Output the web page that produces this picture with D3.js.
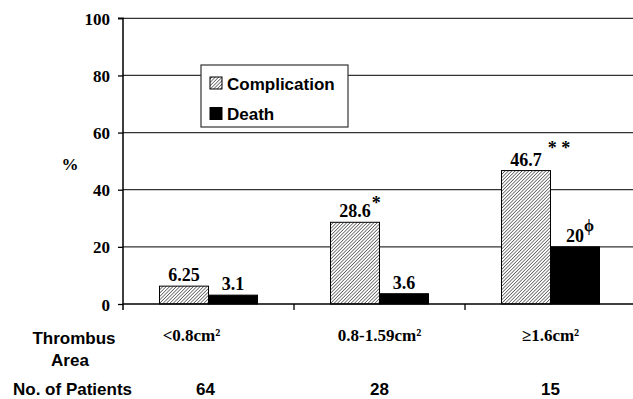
<!DOCTYPE html>
<html>
<head>
<meta charset="utf-8">
<script src="https://cdn.jsdelivr.net/npm/d3@7"></script>
<style>
  html, body { margin: 0; padding: 0; background: #fff; }
  svg { display: block; }
</style>
</head>
<body>
<svg id="chart" width="633" height="399"></svg>
<script>
const categories = ["<0.8cm²", "0.8-1.59cm²", "≥1.6cm²"];
const seriesNames = ["Complication", "Death"];
const complication = [6.25, 28.6, 46.7];
const death = [3.1, 3.6, 20];
const complicationNotes = ["", "*", "* *"];
const deathNotes = ["", "", "ϕ"];
const patients = ["64", "28", "15"];
const yTicks = [0, 20, 40, 60, 80, 100];

(function () {
const W = 633, H = 399;
const mLeft = 123, mRight = 636, mTop = 18.3, mBottom = 304;
const serif = "'Liberation Serif', 'Times New Roman', serif";
const sans = "'Liberation Sans', Arial, sans-serif";

const svg = d3.select("#chart");

// pattern
const defs = svg.append("defs");
const ps = 2.4;
const pat = defs.append("pattern")
  .attr("id", "hatch").attr("patternUnits", "userSpaceOnUse")
  .attr("width", ps).attr("height", ps)
  .attr("patternTransform", "rotate(45)");
pat.append("rect").attr("width", ps).attr("height", ps).attr("fill", "#fff");
pat.append("line").attr("x1", 0).attr("y1", 0).attr("x2", 0).attr("y2", ps)
  .attr("stroke", "#000").attr("stroke-width", 1.0);

const x0 = d3.scaleBand().domain(categories).range([mLeft, mRight]).padding(0);
const bw = x0.bandwidth();
const inset = (bw - 98) / 2;
const x1 = d3.scaleBand().domain(seriesNames).range([inset, bw - inset]).padding(0);
const y = d3.scaleLinear().domain([0, 100]).range([mBottom, mTop]);

// gridlines
svg.append("g").selectAll("line").data(yTicks.filter(d => d > 0)).join("line")
  .attr("x1", mLeft).attr("x2", W)
  .attr("y1", d => y(d)).attr("y2", d => y(d))
  .attr("stroke", "#333").attr("stroke-width", 1.2);

// y axis
const yAxis = d3.axisLeft(y).tickValues(yTicks).tickSize(5).tickPadding(8);
const gy = svg.append("g").attr("transform", `translate(${mLeft},0)`).call(yAxis);
gy.select(".domain").attr("stroke", "#000").attr("stroke-width", 1.5)
  .attr("d", `M-5,${mTop}H0V${mBottom + 6}`);
gy.selectAll(".tick line").attr("stroke", "#000").attr("stroke-width", 1.3);
gy.selectAll(".tick text").attr("font-family", serif).attr("font-weight", "bold")
  .attr("font-size", 17).attr("fill", "#000").attr("dy", "0.36em");

svg.append("text").attr("x", 70).attr("y", 170).attr("text-anchor", "middle")
  .attr("font-family", serif).attr("font-weight", "bold").attr("font-size", 17).text("%");

// data table
const rows = categories.map((c, i) => ({
  cat: c,
  vals: [
    { s: "Complication", v: complication[i], note: complicationNotes[i] },
    { s: "Death", v: death[i], note: deathNotes[i] }
  ]
}));

const groups = svg.append("g").selectAll("g").data(rows).join("g")
  .attr("transform", d => `translate(${x0(d.cat)},0)`);

groups.selectAll("rect").data(d => d.vals).join("rect")
  .attr("x", d => x1(d.s)).attr("width", x1.bandwidth())
  .attr("y", d => y(d.v)).attr("height", d => y(0) - y(d.v))
  .attr("fill", d => d.s === "Complication" ? "url(#hatch)" : "#000")
  .attr("stroke", "#000").attr("stroke-width", 1);

// value labels
groups.each(function(d) {
  const g = d3.select(this);
  d.vals.forEach(v => {
    const cx = x1(v.s) + x1.bandwidth() / 2;
    const t = g.append("text").attr("x", cx).attr("y", y(v.v) - 5)
      .attr("text-anchor", "middle").attr("font-family", serif)
      .attr("font-weight", "bold").attr("font-size", 18).text(String(v.v));
    if (v.note) {
      const w = t.node().getComputedTextLength();
      const isPhi = v.note === "ϕ";
      g.append("text")
        .attr("x", cx + w / 2 + (isPhi ? 0 : v.note.length > 1 ? 6 : 1))
        .attr("y", y(v.v) - 5 + (isPhi ? -11 : v.note.length > 1 ? -12 : -8))
        .attr("font-family", serif).attr("font-weight", "bold")
        .attr("font-size", isPhi ? 16 : 18).text(v.note);
    }
  });
});

// x axis line and ticks
svg.append("line").attr("x1", mLeft).attr("x2", W).attr("y1", mBottom).attr("y2", mBottom)
  .attr("stroke", "#000").attr("stroke-width", 1.5);
svg.append("g").selectAll("line").data(categories.slice(1)).join("line")
  .attr("x1", d => x0(d)).attr("x2", d => x0(d))
  .attr("y1", mBottom).attr("y2", mBottom + 6)
  .attr("stroke", "#000").attr("stroke-width", 1.3);

// category labels
svg.append("g").selectAll("text").data(categories).join("text")
  .attr("x", (d, i) => x0(d) + bw / 2 + (i === 0 ? -17 : 0))
  .attr("y", 341).attr("text-anchor", "middle")
  .attr("font-family", serif).attr("font-weight", "bold").attr("font-size", 17)
  .text(d => d);

svg.append("text").attr("x", 74).attr("y", 344).attr("text-anchor", "middle")
  .attr("font-family", sans).attr("font-weight", "bold").attr("font-size", 17).text("Thrombus");
svg.append("text").attr("x", 70).attr("y", 366).attr("text-anchor", "middle")
  .attr("font-family", sans).attr("font-weight", "bold").attr("font-size", 17).text("Area");
svg.append("text").attr("x", 13).attr("y", 395)
  .attr("font-family", sans).attr("font-weight", "bold").attr("font-size", 17).text("No. of Patients");

svg.append("g").selectAll("text").data(patients).join("text")
  .attr("x", (d, i) => x0(categories[i]) + bw / 2 + (i === 0 ? -3 : 0))
  .attr("y", 395).attr("text-anchor", "middle")
  .attr("font-family", sans).attr("font-weight", "bold").attr("font-size", 17)
  .text(d => d);

// legend
const lg = svg.append("g");
lg.append("rect").attr("x", 201).attr("y", 65).attr("width", 147).attr("height", 62)
  .attr("fill", "#fff").attr("stroke", "#333").attr("stroke-width", 1.2);
seriesNames.forEach((s, i) => {
  const yy = 77 + i * 30.5;
  lg.append("rect").attr("x", 210).attr("y", yy).attr("width", 12).attr("height", 12)
    .attr("fill", s === "Complication" ? "url(#hatch)" : "#000")
    .attr("stroke", "#000").attr("stroke-width", 1);
  lg.append("text").attr("x", 227).attr("y", yy + 12.5)
    .attr("font-family", sans).attr("font-weight", "bold").attr("font-size", 17).text(s);
});
})();
</script>
</body>
</html>
